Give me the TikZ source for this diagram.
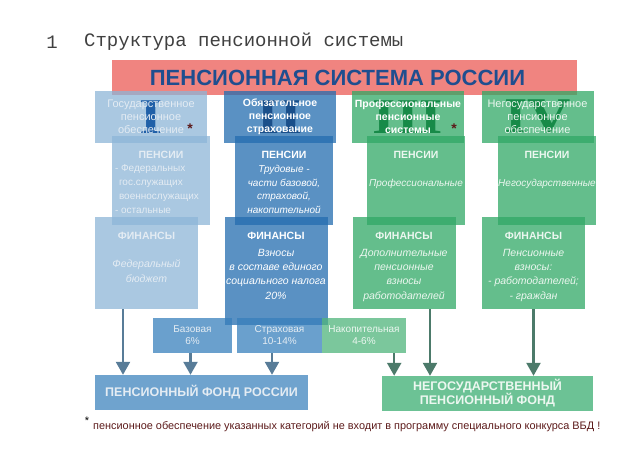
\documentclass[tikz,border=0pt]{standalone}
\usepackage{fontspec}
\setmainfont{Liberation Sans}
\newfontfamily\courierfont{Liberation Mono}
\newfontfamily\romanfont{Liberation Serif}
\usepackage{xcolor}
\usetikzlibrary{arrows.meta, positioning}

\definecolor{bannerred}{RGB}{240,132,128}
\definecolor{bannerblue}{RGB}{31,78,143}
\definecolor{paleblue}{RGB}{141,181,215}
\definecolor{midblue}{RGB}{35,108,175}
\definecolor{pgreen}{RGB}{48,168,101}
\definecolor{partblue}{RGB}{56,128,188}
\definecolor{partgreen}{RGB}{79,180,123}
\definecolor{fundblue}{RGB}{111,163,206}
\definecolor{fundgreen}{RGB}{108,194,149}
\definecolor{arrowblue}{RGB}{88,124,152}
\definecolor{arrowgreen}{RGB}{76,122,106}
\definecolor{notered}{RGB}{92,26,26}
\definecolor{numblue}{RGB}{32,96,168}
\definecolor{numdarkblue}{RGB}{26,79,138}
\definecolor{numgreen}{RGB}{23,138,72}
\definecolor{palewhite}{RGB}{228,236,243}
\definecolor{greenwhite}{RGB}{236,247,240}

\begin{document}
\begin{tikzpicture}[
    x=1pt, y=-1pt,
    hdr/.style={rectangle, minimum width=112pt, minimum height=52pt, inner sep=0pt, fill opacity=0.75},
    pensbox/.style={rectangle, minimum width=98pt, minimum height=89pt, inner sep=0pt, fill opacity=0.75},
    finbox/.style={rectangle, minimum width=103pt, minimum height=92pt, inner sep=0pt, fill opacity=0.75},
    part/.style={rectangle, minimum height=35pt, inner sep=0pt, fill opacity=0.75, text opacity=1, align=center, text=palewhite, font=\fontsize{10}{12}\selectfont},
    fund/.style={rectangle, minimum height=35pt, inner sep=0pt, align=center, font=\bfseries\fontsize{12.5}{14}\selectfont},
    numeral/.style={inner sep=0pt, font=\romanfont\bfseries\fontsize{50}{50}\selectfont, xscale=1.2},
    hdrtext/.style={inner sep=0pt, align=center, font=\fontsize{11}{13}\selectfont},
    boxtitle/.style={inner sep=0pt, anchor=base, font=\bfseries\fontsize{10.5}{13}\selectfont},
    boxtext/.style={inner sep=0pt, anchor=north, align=center, font=\itshape\fontsize{10}{13.8}\selectfont},
    fintext/.style={inner sep=0pt, anchor=north, align=center, font=\itshape\fontsize{10.5}{14.3}\selectfont},
    arrow/.style={-{Triangle[width=14pt, length=13pt]}, line width=2.4pt},
    starmark/.style={inner sep=0pt, text=notered, font=\bfseries\fontsize{14}{14}\selectfont}
]
\useasboundingbox (0,0) rectangle (630,450);

% heading
\node[inner sep=0pt, text=black!75, font=\courierfont\fontsize{19}{19}\selectfont] (num) at (52,42) {1};
\node[inner sep=0pt, anchor=west, text=black!75, font=\courierfont\fontsize{19}{19}\selectfont] (title) at (84,42) {Структура пенсионной системы};

% banner
\node[rectangle, fill=bannerred, minimum width=465pt, minimum height=35pt, inner sep=0pt] (banner) at (344.5,77.5) {};
\node[inner sep=0pt, text=bannerblue, font=\bfseries\fontsize{22}{22}\selectfont] (bannert) at ([xshift=-7pt]banner.center) {ПЕНСИОННАЯ СИСТЕМА РОССИИ};

% column headers
\node[hdr, fill=paleblue] (hdr1) at (151,117) {};
\node[hdr, fill=midblue] (hdr2) at (280,117) {};
\node[hdr, fill=pgreen] (hdr3) at (408,117) {};
\node[hdr, fill=pgreen] (hdr4) at (537.5,117) {};

\node[numeral, text=numblue] (num1) at (hdr1) {I};
\node[numeral, text=numdarkblue] (num2) at (hdr2) {II};
\node[numeral, text=numgreen] (num3) at (hdr3) {III};
\node[numeral, text=numgreen] (num4) at (hdr4) {IV};

\node[hdrtext, text=palewhite] (hdr1t) at (hdr1) {Государственное\\пенсионное\\обеспечение};
\node[hdrtext, text=white, font=\bfseries\fontsize{10.5}{13}\selectfont] (hdr2t) at (hdr2) {Обязательное\\пенсионное\\страхование};
\node[hdrtext, text=white, font=\bfseries\fontsize{10.5}{13}\selectfont] (hdr3t) at (hdr3) {Профессиональные\\пенсионные\\системы};
\node[hdrtext, text=greenwhite] (hdr4t) at (hdr4) {Негосударственное\\пенсионное\\обеспечение};

\node[starmark] (star1) at ([xshift=-17pt, yshift=15pt]hdr1.south east) {*};
\node[starmark] (star3) at ([xshift=-10pt, yshift=15pt]hdr3.south east) {*};

% pensions
\node[pensbox, fill=paleblue] (pens1) at (161,180.5) {};
\node[pensbox, fill=midblue] (pens2) at (284,180.5) {};
\node[pensbox, fill=pgreen] (pens3) at (416,180.5) {};
\node[pensbox, fill=pgreen] (pens4) at (547,180.5) {};

\node[boxtitle, text=palewhite] (pens1h) at ([yshift=-23pt]pens1.north) {ПЕНСИИ};
\node[boxtitle, text=white] (pens2h) at ([yshift=-23pt]pens2.north) {ПЕНСИИ};
\node[boxtitle, text=greenwhite] (pens3h) at ([yshift=-23pt]pens3.north) {ПЕНСИИ};
\node[boxtitle, text=greenwhite] (pens4h) at ([yshift=-23pt]pens4.north) {ПЕНСИИ};

\node[boxtext, anchor=north west, align=left, text=palewhite, font=\fontsize{10}{13.8}\selectfont] (pens1c) at ([xshift=3pt, yshift=-29pt]pens1.north west) {- Федеральных\\\hspace{4pt}гос.служащих\\\hspace{4pt}военнослужащих\\- остальные};
\node[boxtext, text=white] (pens2c) at ([yshift=-29pt]pens2.north) {Трудовые -\\части базовой,\\страховой,\\накопительной};
\node[boxtext, text=greenwhite] (pens3c) at ([yshift=-43pt]pens3.north) {Профессиональные};
\node[boxtext, text=greenwhite] (pens4c) at ([yshift=-43pt]pens4.north) {Негосударственные};

% finances
\node[finbox, fill=paleblue] (fin1) at (146.5,263) {};
\node[finbox, fill=midblue, minimum height=108pt] (fin2) at (276,271) {};
\node[finbox, fill=pgreen] (fin3) at (404,263) {};
\node[finbox, fill=pgreen] (fin4) at (533.5,263) {};

\node[boxtitle, text=palewhite] (fin1h) at ([yshift=-23pt]fin1.north) {ФИНАНСЫ};
\node[boxtitle, text=white] (fin2h) at ([yshift=-23pt]fin2.north) {ФИНАНСЫ};
\node[boxtitle, text=greenwhite] (fin3h) at ([yshift=-23pt]fin3.north) {ФИНАНСЫ};
\node[boxtitle, text=greenwhite] (fin4h) at ([yshift=-23pt]fin4.north) {ФИНАНСЫ};

\node[fintext, text=palewhite] (fin1c) at ([yshift=-43pt]fin1.north) {Федеральный\\бюджет};
\node[fintext, text=white] (fin2c) at ([yshift=-32pt]fin2.north) {Взносы\\в составе единого\\социального налога\\20\%};
\node[fintext, text=greenwhite] (fin3c) at ([yshift=-32pt]fin3.north) {Дополнительные\\пенсионные\\взносы\\работодателей};
\node[fintext, text=greenwhite] (fin4c) at ([yshift=-32pt]fin4.north) {Пенсионные\\взносы:\\- работодателей;\\- граждан};

% contribution parts
\node[part, fill=partblue, minimum width=79pt] (baz) at (192.5,335.5) {Базовая\\6\%};
\node[part, fill=partblue, minimum width=85pt] (str) at (279.5,335.5) {Страховая\\10-14\%};
\node[part, fill=partgreen, minimum width=84pt, text=greenwhite] (nak) at (364,335.5) {Накопительная\\4-6\%};

% funds
\node[fund, fill=fundblue, minimum width=213pt, text=palewhite] (pfr) at (201.5,392.5) {ПЕНСИОННЫЙ ФОНД РОССИИ};
\node[fund, fill=fundgreen, minimum width=211pt, text=greenwhite] (npf) at (487.5,393.5) {НЕГОСУДАРСТВЕННЫЙ\\ПЕНСИОННЫЙ ФОНД};

\draw[arrow, arrowblue] ([xshift=-23.5pt]fin1.south) -- ([xshift=-23.5pt]fin1.south |- pfr.north);
\draw[arrow, arrowblue] ([xshift=-2pt]baz.south) -- ([xshift=-2pt]baz.south |- pfr.north);
\draw[arrow, arrowblue] ([xshift=-7.5pt]str.south) -- ([xshift=-7.5pt]str.south |- pfr.north);
\draw[arrow, arrowgreen] ([xshift=-12pt]nak.south east) -- ([xshift=-12pt]nak.south east |- npf.north);
\draw[arrow, arrowgreen] ([xshift=26pt]fin3.south) -- ([xshift=26pt]fin3.south |- npf.north);
\draw[arrow, arrowgreen] (fin4.south) -- (fin4.south |- npf.north);

% footnote
\node[inner sep=0pt, font=\fontsize{11}{11}\selectfont] (fnstar) at (87,421) {*};
\node[inner sep=0pt, anchor=base west, text=notered, font=\fontsize{10.9}{12}\selectfont] (fntext) at (93,429) {пенсионное обеспечение указанных категорий не входит в программу специального конкурса ВБД !};
\end{tikzpicture}
\end{document}
